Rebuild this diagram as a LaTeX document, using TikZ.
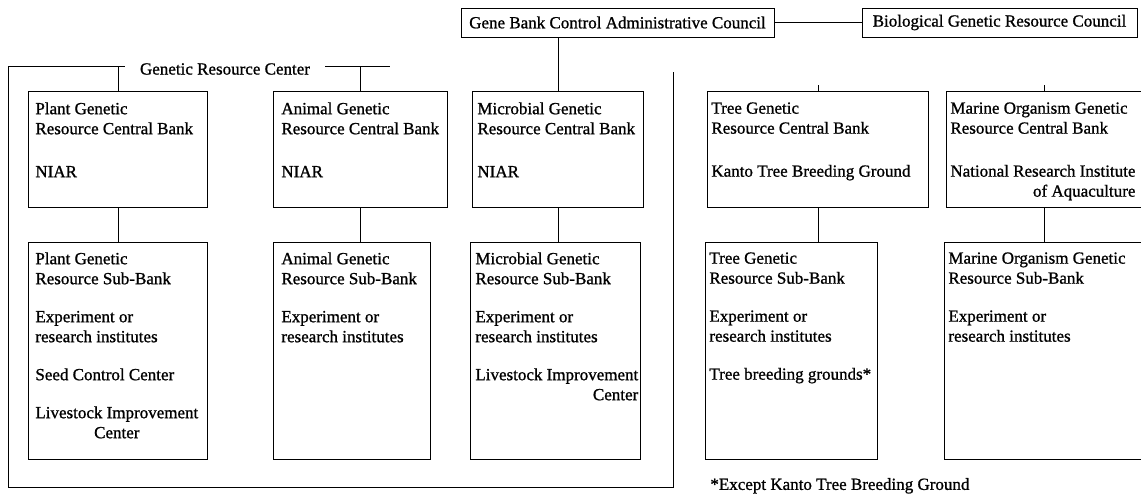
\documentclass[tikz,border=0pt]{standalone}
\usepackage{fontspec}
\setmainfont{Liberation Serif}[FakeBold=1]
\begin{document}
\begin{tikzpicture}[x=1pt, y=-1pt, line width=0.8pt, font=\fontsize{17}{20}\selectfont,
                    bank/.style = {draw, rectangle, anchor=north west, inner sep=0pt, minimum height=116pt},
                    subbank/.style = {draw, rectangle, anchor=north west, inner sep=0pt, minimum height=217pt},
                    council/.style = {draw, rectangle, inner sep=0pt, minimum height=29pt},
                    txt/.style = {anchor=north west, align=left, inner sep=0pt}]
                \useasboundingbox (0,0) rectangle (1141,496);
                \node[council, minimum width=313pt] (gbc) at (617.5,22.5) {Gene Bank Control Administrative Council};
                \node[council, minimum width=275pt] (bgrc) at (999.5,22.5) {Biological Genetic Resource Council};
                \draw (gbc) -- (bgrc);
                \node[inner xsep=15pt] (grc) at (225,69) {Genetic Resource Center};
                \coordinate (grcTL) at (8,66);
                \coordinate (grcTR) at (390,66);
                \coordinate (grcBL) at (8,487);
                \coordinate (grcBR) at (673,487);
                \coordinate (grcRT) at (673,72);
                \draw (grc.west |- grcTL) -- (grcTL) -- (grcBL) -- (grcBR) -- (grcRT);
                \draw (grc.east |- grcTR) -- (grcTR);
                \node[bank, minimum width=179pt] (plantC) at (28,91) {};
                \node[bank, minimum width=174pt] (animalC) at (273,91) {};
                \node[bank, minimum width=171pt] (microC) at (472,91) {};
                \node[bank, minimum width=221pt] (treeC) at (707,91) {};
                \node[bank, minimum width=195pt, draw=none] (marineC) at (946,91) {};
                \node[subbank, minimum width=179pt] (plantS) at (28,242) {};
                \node[subbank, minimum width=157pt] (animalS) at (273,242) {};
                \node[subbank, minimum width=170pt] (microS) at (470,242) {};
                \node[subbank, minimum width=172pt] (treeS) at (705,242) {};
                \node[subbank, minimum width=197pt, draw=none] (marineS) at (944,242) {};
                \draw (marineC.north east) -- (marineC.north west) -- (marineC.south west) -- (marineC.south east);
                \draw (marineS.north east) -- (marineS.north west) -- (marineS.south west) -- (marineS.south east);
                \draw (plantC.north) -- (plantC.north |- grcTL);
                \draw (animalC.north) -- (animalC.north |- grcTL);
                \draw (microC.north) -- (microC.north |- gbc.south);
                \draw (treeC.north) -- ++(0,-6);
                \draw (marineC.north) -- ++(0,-6);
                \foreach \b in {plant, animal, micro, tree, marine}
                    \draw (\b C.south) -- (\b C.south |- \b S.north);
                \node[txt] (plantCt) at ([shift={(7,11)}]plantC.north west) {Plant Genetic\\Resource Central Bank\\[23pt]NIAR};
                \node[txt] (animalCt) at ([shift={(8,11)}]animalC.north west) {Animal Genetic\\Resource Central Bank\\[23pt]NIAR};
                \node[txt] (microCt) at ([shift={(5,11)}]microC.north west) {Microbial Genetic\\Resource Central Bank\\[23pt]NIAR};
                \node[txt] (treeCt) at ([shift={(4,11)}]treeC.north west) {Tree Genetic\\Resource Central Bank\\[23pt]Kanto Tree Breeding Ground};
                \node[txt] (marineCt) at ([shift={(4,11)}]marineC.north west) {Marine Organism Genetic\\Resource Central Bank\\[23pt]%
                    \begin{tabular}[t]{@{}r@{}}National Research Institute\\of Aquaculture\end{tabular}};
                \node[txt] (plantSt) at ([shift={(7,10)}]plantS.north west) {Plant Genetic\\Resource Sub-Bank\\[18pt]Experiment or\\research institutes\\[18pt]%
                    Seed Control Center\\[18pt]\begin{tabular}[t]{@{}c@{}}Livestock Improvement\\Center\end{tabular}};
                \node[txt] (animalSt) at ([shift={(8,10)}]animalS.north west) {Animal Genetic\\Resource Sub-Bank\\[18pt]Experiment or\\research institutes};
                \node[txt] (microSt) at ([shift={(5,10)}]microS.north west) {Microbial Genetic\\Resource Sub-Bank\\[18pt]Experiment or\\research institutes\\[18pt]%
                    \begin{tabular}[t]{@{}r@{}}Livestock Improvement\\Center\end{tabular}};
                \node[txt] (treeSt) at ([shift={(4,10)}]treeS.north west) {Tree Genetic\\Resource Sub-Bank\\[18pt]Experiment or\\research institutes\\[18pt]Tree breeding grounds*};
                \node[txt] (marineSt) at ([shift={(4,10)}]marineS.north west) {Marine Organism Genetic\\Resource Sub-Bank\\[18pt]Experiment or\\research institutes};
                \node[anchor=west, inner sep=0pt] (note) at ([shift={(5,26)}]treeS.south west) {*Except Kanto Tree Breeding Ground};
            \end{tikzpicture}
\end{document}
